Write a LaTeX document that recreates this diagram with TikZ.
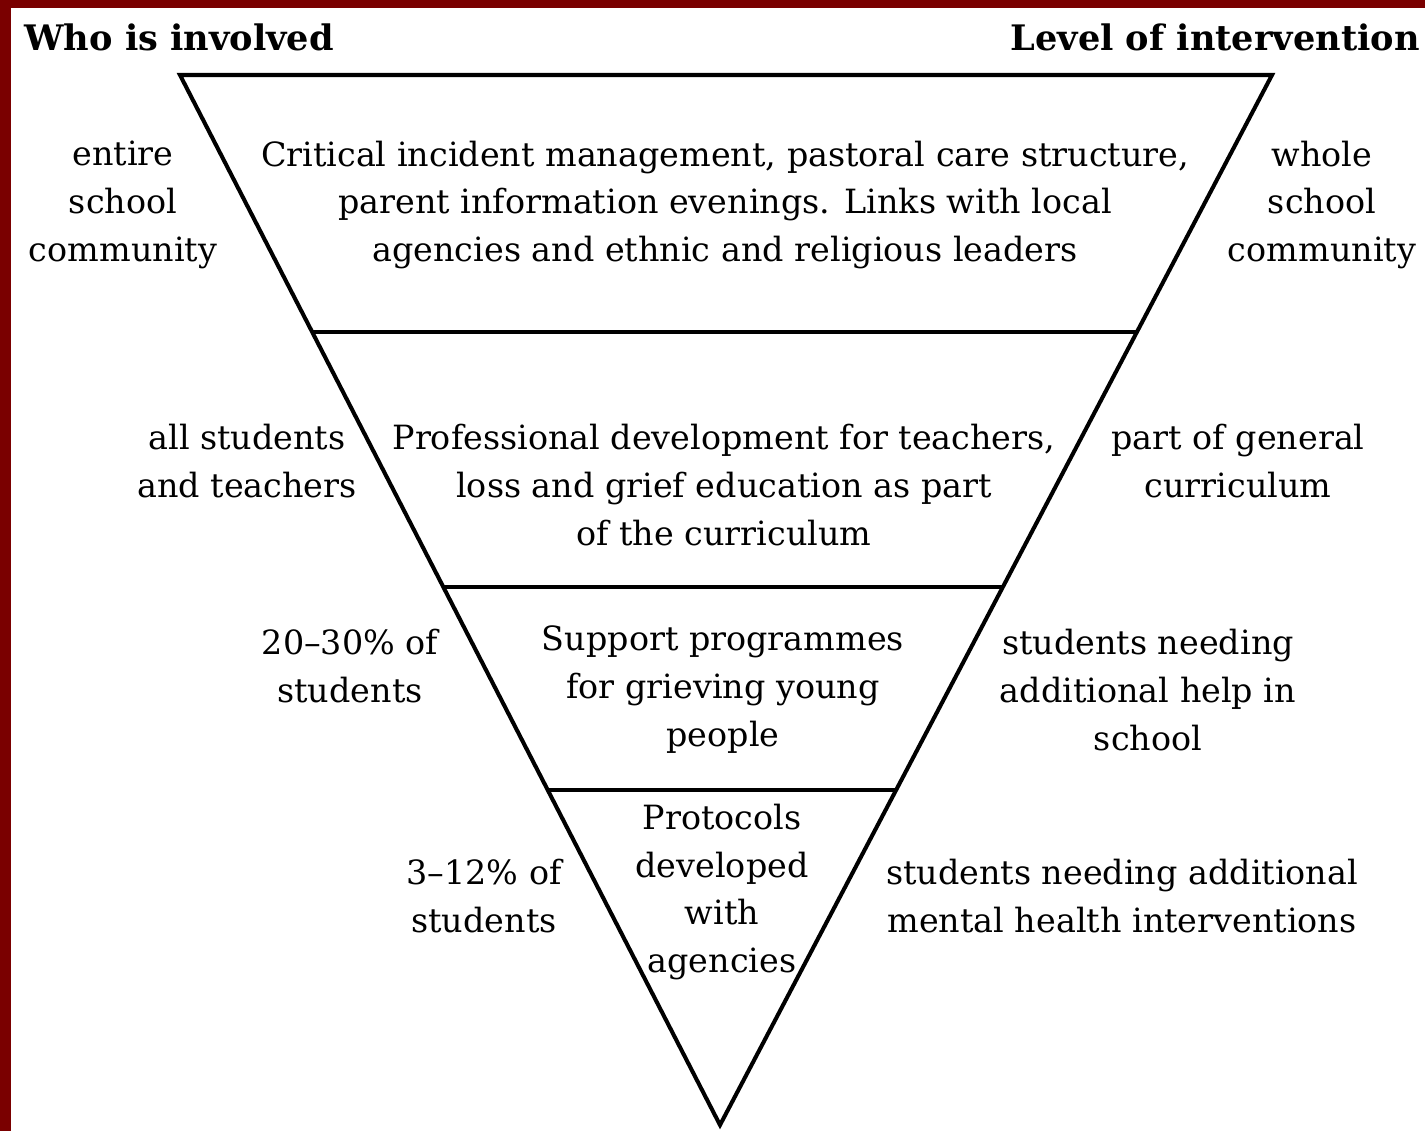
\documentclass[tikz,border=0pt]{standalone}
\usepackage{fontspec}
\setmainfont{DejaVu Serif}
\usepackage{tikz}
\usetikzlibrary{calc}

\definecolor{frame}{RGB}{122,0,0}

\tikzset{
  band/.style={line width=2.3pt},
  lbl/.style={align=center, inner sep=0pt,
    font=\fontsize{19}{27.3}\selectfont},
  head/.style={inner sep=0pt, font=\fontsize{20}{27}\selectfont\bfseries}
}

\begin{document}
\begin{tikzpicture}[x=0.02cm,y=-0.02cm]
    \useasboundingbox (0,0) rectangle (1425,1131);
    \fill[frame] (0,0) rectangle (1425,8);
    \fill[frame] (0,0) rectangle (11,1131);

    \coordinate (TL) at (180,75);
    \coordinate (TR) at (1272,75);
    \coordinate (V) at (720,1125);

    \draw[band, line join=miter] (TL) -- (TR) -- (V) -- cycle;

    % horizontal bands
    \foreach \t/\n in {0.2448/a, 0.4876/b, 0.681/c} {
        \draw[band] ($(TL)!\t!(V)$) coordinate (\n1) -- ($(TR)!\t!(V)$) coordinate (\n2);
    }

    \node[head, anchor=west] (who) at (24,37) {Who is involved};
    \node[head, anchor=east] (lvl) at (1420,37) {Level of intervention};

    \node[lbl] (t1) at (725,205) {Critical incident management, pastoral care structure,\\
        parent information evenings. Links with local\\
        agencies and ethnic and religious leaders};
    \node[lbl] (t2) at (724,485) {Professional development for teachers,\\
        loss and grief education as part\\ of the curriculum};
    \node[lbl] (t3) at (723,690) {Support programmes\\ for grieving young\\ people};
    \node[lbl] (t4) at (722,892) {Protocols\\ developed\\ with\\ agencies};

    \node[lbl] (l1) at (123,205) {entire\\ school\\ community};
    \node[lbl] (l2) at (247,461) {all students\\ and teachers};
    \node[lbl] (l3) at (350,666) {20--30\% of\\ students};
    \node[lbl] (l4) at (484,896) {3--12\% of\\ students};

    \node[lbl] (r1) at (1322,205) {whole\\ school\\ community};
    \node[lbl] (r2) at (1238,461) {part of general\\ curriculum};
    \node[lbl] (r3) at (1148,690) {students needing\\ additional help in\\ school};
    \node[lbl] (r4) at (1122,896) {students needing additional\\ mental health interventions};
\end{tikzpicture}
\end{document}
